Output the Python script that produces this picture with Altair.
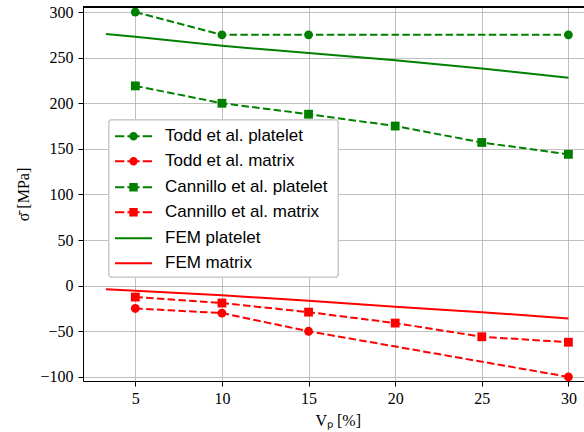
import altair as alt
import pandas as pd

# Residual stress vs. platelet volume fraction
series_names = [
    "Todd et al. platelet",
    "Todd et al. matrix",
    "Cannillo et al. platelet",
    "Cannillo et al. matrix",
    "FEM platelet",
    "FEM matrix",
]
green, red = "#008000", "#ff0000"
series_colors = [green, red, green, red, green, red]

x_todd = [5, 10, 15, 30]
todd_platelet = [300, 275, 275, 275]
todd_matrix = [-25, -30, -50, -100]

x_cannillo = [5, 10, 15, 20, 25, 30]
cannillo_platelet = [219, 200, 188, 175, 157, 144]
cannillo_matrix = [-12.5, -19, -29, -41, -56, -62]

x_fem = [3.3, 5, 10, 15, 20, 25, 30]
fem_platelet = [276, 273, 263, 255, 247, 238, 228]
fem_matrix = [-4, -5.5, -10.5, -16.5, -23, -29, -36]

x_ticks = [5, 10, 15, 20, 25, 30]
y_ticks = [-100, -50, 0, 50, 100, 150, 200, 250, 300]

rows = []
for name, xs, ys, marker, style in [
    (series_names[0], x_todd, todd_platelet, "circle", "dashed"),
    (series_names[1], x_todd, todd_matrix, "circle", "dashed"),
    (series_names[2], x_cannillo, cannillo_platelet, "square", "dashed"),
    (series_names[3], x_cannillo, cannillo_matrix, "square", "dashed"),
    (series_names[4], x_fem, fem_platelet, "none", "solid"),
    (series_names[5], x_fem, fem_matrix, "none", "solid"),
]:
    for xv, yv in zip(xs, ys):
        rows.append({"V": xv, "sigma": yv, "series": name, "marker": marker, "style": style})
df = pd.DataFrame(rows)


# Legend glyphs in unit-square coordinates: dashed line plus a marker drawn
# as nested strokes so that it reads as a filled shape.
def circle_path(r):
    return f"M{r} 0A{r} {r} 0 1 1 {-r} 0A{r} {r} 0 1 1 {r} 0Z"


def square_path(h):
    return f"M{-h} {-h}L{h} {-h}L{h} {h}L{-h} {h}Z"


dash_part = "M-1 0L-0.5 0M-0.33 0L0.33 0M0.5 0L1 0"
circle_glyph = dash_part + "".join(circle_path(r) for r in (0.173, 0.076, 0.012))
square_glyph = dash_part + "".join(square_path(h) for h in (0.173, 0.076, 0.012))
line_glyph = "M-1 0L1 0"

W, H = 501, 374

x_enc = alt.X(
    "V:Q",
    scale=alt.Scale(domain=[1.98, 30.9], nice=False, zero=False),
    axis=alt.Axis(
        values=x_ticks,
        title="Vₚ [%]",
        labelPadding=4,
        titleX=254.7,
        titleY=44,
        titleBaseline="alphabetic",
        titleAlign="center",
    ),
)
y_enc = alt.Y(
    "sigma:Q",
    scale=alt.Scale(domain=[-104.5, 305.5], nice=False, zero=False),
    axis=alt.Axis(
        values=y_ticks,
        title="σ̄ [MPa]",
        labelPadding=5,
        titleX=-55,
        titleY=187,
        titleAngle=270,
        titleBaseline="alphabetic",
        titleAlign="center",
    ),
)
color_scale = alt.Scale(domain=series_names, range=series_colors)
color_enc = alt.Color("series:N", scale=color_scale, legend=None)

base = alt.Chart(df)

dashed = base.transform_filter("datum.style == 'dashed'").mark_line(
    strokeWidth=2, strokeDash=[7.5, 3.3]
).encode(x=x_enc, y=y_enc, color=color_enc, detail="series:N")

solid = base.transform_filter("datum.style == 'solid'").mark_line(
    strokeWidth=2
).encode(x=x_enc, y=y_enc, color=color_enc, detail="series:N")

circles = base.transform_filter("datum.marker == 'circle'").mark_point(
    shape="circle", filled=True, size=78, opacity=1
).encode(x=x_enc, y=y_enc, color=color_enc)

squares = base.transform_filter("datum.marker == 'square'").mark_point(
    shape="square", filled=True, size=78, opacity=1
).encode(x=x_enc, y=y_enc, color=color_enc)

# Legend frame (drawn over the data, under the legend entries)
frame = base.mark_rect(
    fill="white", fillOpacity=0.8, stroke="#cccccc", strokeWidth=1, cornerRadius=3
).encode(x=alt.value(26), x2=alt.value(255), y=alt.value(113), y2=alt.value(270))


def legend_group(names, glyph, legend_y):
    return base.transform_filter("false").mark_point(
        filled=False, shape=glyph, size=1369, strokeWidth=2, opacity=1
    ).encode(
        x=x_enc,
        y=y_enc,
        color=alt.Color(
            "series:N",
            scale=alt.Scale(domain=names, range=[green, red]),
            legend=alt.Legend(
                title=None,
                orient="none",
                legendX=31,
                legendY=legend_y,
                symbolSize=1369,
                symbolStrokeWidth=2,
                clipHeight=24.4,
                rowPadding=0,
                padding=0,
                labelOffset=12,
                labelFont="Liberation Sans",
                labelFontSize=17,
                labelColor="black",
                labelLimit=400,
            ),
        ),
    )


leg_todd = legend_group(series_names[0:2], circle_glyph, 117)
leg_cannillo = legend_group(series_names[2:4], square_glyph, 168)
leg_fem = legend_group(series_names[4:6], line_glyph, 219)

# Top frame line
top_frame = base.mark_rule(color="black", strokeWidth=1).encode(
    x=alt.value(0), x2=alt.value(W), y=alt.value(0)
)

chart = alt.layer(
    dashed, solid, circles, squares, frame, leg_todd, leg_cannillo, leg_fem, top_frame
).resolve_scale(color="independent").properties(
    width=W,
    height=H,
    autosize=alt.AutoSizeParams(type="none"),
    padding={"left": 83, "top": 7, "right": 0, "bottom": 51},
).configure_view(stroke=None).configure_axis(
    grid=True,
    gridColor="#b0b0b0",
    gridWidth=0.8,
    domainColor="black",
    domainWidth=1,
    tickColor="black",
    tickSize=5,
    tickWidth=1,
    labelFont="Liberation Serif",
    labelFontSize=16,
    labelColor="black",
    titleFont="Liberation Serif",
    titleFontSize=16,
    titleFontWeight="normal",
    titleColor="black",
)

chart.save("out.html", embed_options={"renderer": "svg", "actions": False})
